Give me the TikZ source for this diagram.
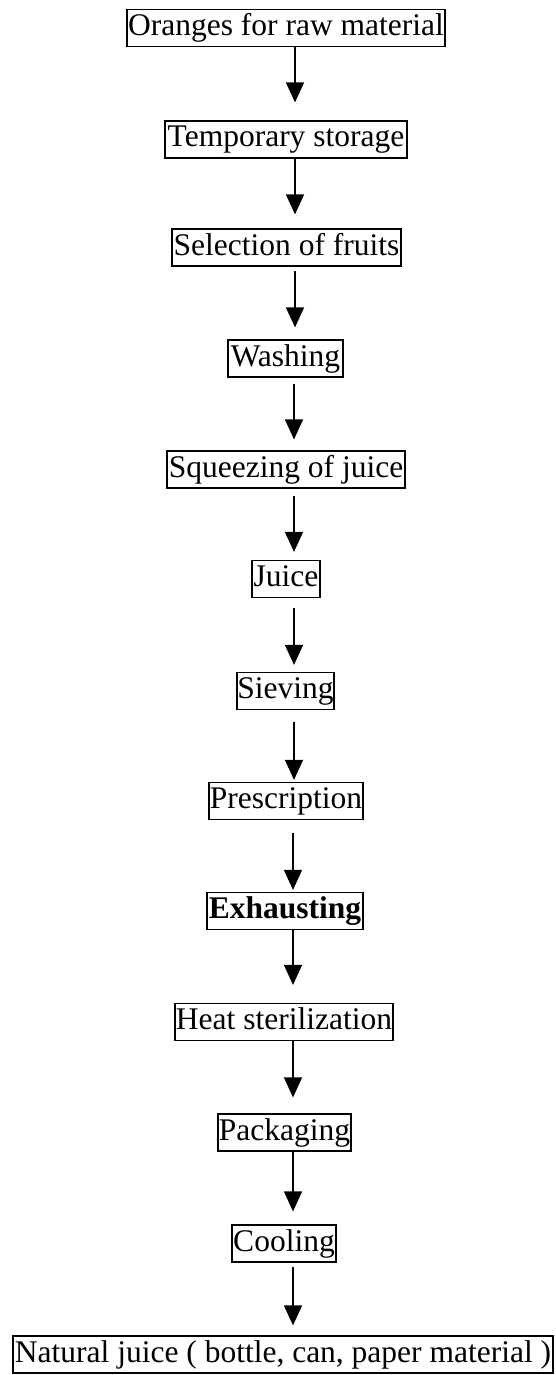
\documentclass[tikz,border=0pt]{standalone}
\usepackage{fontspec}
\setmainfont{Liberation Serif}
\usetikzlibrary{arrows.meta}
\tikzset{
  stepbox/.style={draw=black, line width=1.2pt, inner sep=0pt, minimum height=37pt,
    font=\fontsize{31.5}{31.5}\selectfont, text height=22pt, text depth=7pt},
  flow/.style={draw=black, line width=1.4pt, -{Triangle[length=20pt,width=18pt]}}
}
\begin{document}
\begin{tikzpicture}[x=1pt,y=-1pt]
\useasboundingbox (0,0) rectangle (555,1375);
\node[stepbox, minimum width=318pt] (n1) at (286,28) {Oranges for raw material};
\node[stepbox, minimum width=242pt] (n2) at (286,139.5) {Temporary storage};
\node[stepbox, minimum width=229pt] (n3) at (286.5,247.5) {Selection of fruits};
\node[stepbox, minimum width=115pt] (n4) at (285.5,358.5) {Washing};
\node[stepbox, minimum width=238pt] (n5) at (286,469.5) {Squeezing of juice};
\node[stepbox, minimum width=68pt] (n6) at (286,579) {Juice};
\node[stepbox, minimum width=97pt] (n7) at (285.5,691) {Sieving};
\node[stepbox, minimum width=154pt] (n8) at (286,801) {Prescription};
\node[stepbox, minimum width=156pt] (n9) at (285,911) {\bfseries Exhausting};
\node[stepbox, minimum width=218pt] (n10) at (284,1022) {Heat sterilization};
\node[stepbox, minimum width=133pt] (n11) at (284.5,1132.5) {Packaging};
\node[stepbox, minimum width=104pt] (n12) at (284,1243.5) {Cooling};
\node[stepbox, minimum width=540pt] (n13) at (283,1354.5) {Natural juice ( bottle, can, paper material )};
\coordinate (xa) at (295,0);
\coordinate (xb) at (294,0);
\coordinate (xc) at (293,0);
\draw[flow, shorten >=18pt] (n1.south -| xa) -- (n2.north -| xa);
\draw[flow, shorten >=14pt] (n2.south -| xa) -- (n3.north -| xa);
\draw[flow, shorten <=4pt, shorten >=12pt] (n3.south -| xa) -- (n4.north -| xa);
\draw[flow, shorten <=6pt, shorten >=11pt] (n4.south -| xb) -- (n5.north -| xb);
\draw[flow, shorten <=7pt, shorten >=8pt] (n5.south -| xb) -- (n6.north -| xb);
\draw[flow, shorten <=10pt, shorten >=7pt] (n6.south -| xb) -- (n7.north -| xb);
\draw[flow, shorten <=12pt, shorten >=2pt] (n7.south -| xb) -- (n8.north -| xb);
\draw[flow, shorten <=13pt, shorten >=2pt] (n8.south -| xc) -- (n9.north -| xc);
\draw[flow, shorten >=18pt] (n9.south -| xc) -- (n10.north -| xc);
\draw[flow, shorten >=16pt] (n10.south -| xc) -- (n11.north -| xc);
\draw[flow, shorten >=13pt] (n11.south -| xc) -- (n12.north -| xc);
\draw[flow, shorten <=4pt, shorten >=10pt] (n12.south -| xc) -- (n13.north -| xc);
\end{tikzpicture}
\end{document}
